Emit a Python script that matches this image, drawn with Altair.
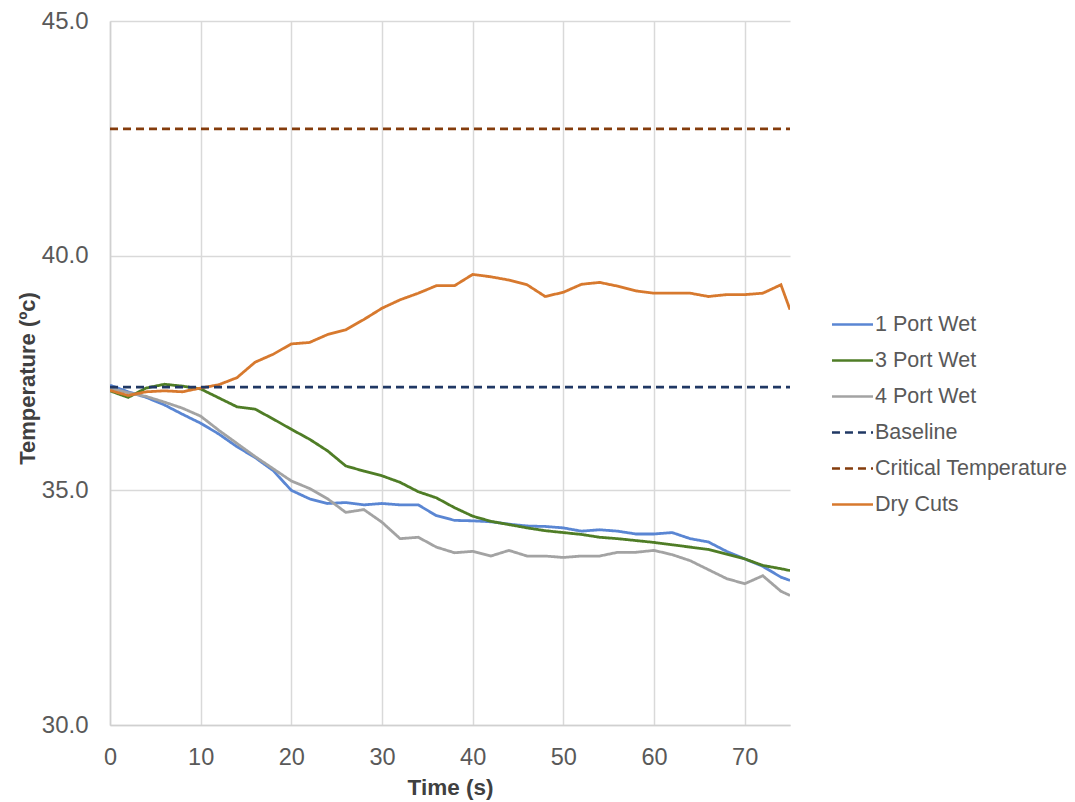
import altair as alt
import pandas as pd

times = [0, 2, 4, 6, 8, 10, 12, 14, 16, 18, 20, 22, 24, 26, 28, 30, 32, 34, 36, 38,
         40, 42, 44, 46, 48, 50, 52, 54, 56, 58, 60, 62, 64, 66, 68, 70, 72, 74, 75]

port1 = [37.24, 37.10, 36.98, 36.82, 36.62, 36.43, 36.20, 35.93, 35.70, 35.42,
         35.00, 34.82, 34.72, 34.74, 34.69, 34.72, 34.69, 34.69, 34.46, 34.36,
         34.35, 34.33, 34.28, 34.24, 34.23, 34.20, 34.13, 34.16, 34.13, 34.07,
         34.07, 34.10, 33.97, 33.90, 33.70, 33.54, 33.38, 33.15, 33.08]

port3 = [37.12, 36.98, 37.18, 37.26, 37.22, 37.16, 36.97, 36.78, 36.73, 36.52,
         36.30, 36.09, 35.84, 35.52, 35.41, 35.31, 35.17, 34.97, 34.84, 34.63,
         34.45, 34.34, 34.27, 34.20, 34.14, 34.10, 34.06, 34.00, 33.97, 33.93,
         33.89, 33.84, 33.79, 33.74, 33.64, 33.54, 33.40, 33.33, 33.29]

port4 = [37.18, 37.08, 37.00, 36.88, 36.75, 36.58, 36.28, 36.00, 35.72, 35.46,
         35.20, 35.04, 34.82, 34.53, 34.59, 34.32, 33.97, 34.00, 33.79, 33.67,
         33.70, 33.60, 33.72, 33.60, 33.60, 33.57, 33.60, 33.60, 33.68, 33.68,
         33.72, 33.63, 33.50, 33.31, 33.12, 33.01, 33.18, 32.85, 32.76]

dry = [37.13, 37.02, 37.10, 37.12, 37.10, 37.18, 37.25, 37.40, 37.73, 37.90,
       38.12, 38.15, 38.32, 38.42, 38.64, 38.88, 39.06, 39.20, 39.36, 39.36,
       39.60, 39.55, 39.48, 39.38, 39.13, 39.22, 39.39, 39.43, 39.35, 39.25,
       39.20, 39.20, 39.20, 39.13, 39.17, 39.17, 39.20, 39.38, 38.85]

baseline_value = 37.2
critical_value = 42.7
ref_times = [0, 75]

names = ["1 Port Wet", "3 Port Wet", "4 Port Wet", "Baseline",
         "Critical Temperature", "Dry Cuts"]
colors = ["#5a86d3", "#4f7d26", "#a3a3a3", "#203864", "#843c0c", "#d7792e"]
dashes = [[1, 0], [1, 0], [1, 0], [8, 5], [8, 5], [1, 0]]

rows = []
for name, vals in [("1 Port Wet", port1), ("3 Port Wet", port3),
                   ("4 Port Wet", port4), ("Dry Cuts", dry)]:
    for t, v in zip(times, vals):
        rows.append({"series": name, "time": t, "temp": v})
for name, v in [("Baseline", baseline_value), ("Critical Temperature", critical_value)]:
    for t in ref_times:
        rows.append({"series": name, "time": t, "temp": v})
df = pd.DataFrame(rows)
df["order"] = df["series"].map({n: i for i, n in enumerate(names)})

FONT = "Liberation Sans"

def make_legend():
    return alt.Legend(
        title=None,
        orient="none",
        legendX=723,
        legendY=284,
        padding=0,
        rowPadding=6,
        symbolType="M-1.14,0L1.14,0",
        symbolSize=1296,
        symbolStrokeWidth=2.5,
        labelFont=FONT,
        labelFontSize=21.5,
        labelColor="#595959",
        labelOffset=3,
        labelLimit=400,
    )

chart = alt.Chart(df).mark_line(strokeWidth=2.8, clip=True).encode(
    x=alt.X("time:Q",
            scale=alt.Scale(domain=[0, 75], nice=False, zero=False),
            axis=alt.Axis(title="Time (s)", values=[0, 10, 20, 30, 40, 50, 60, 70],
                          labelFontSize=23.5, labelColor="#595959", labelFont=FONT,
                          labelPadding=20, labelFlush=False, ticks=False,
                          domainColor="#d0d0d0",
                          domainWidth=1.5, gridColor="#d9d9d9", gridWidth=1.5,
                          titleFont=FONT, titleFontSize=22.5, titleFontWeight="bold",
                          titleColor="#404040", titlePadding=8)),
    y=alt.Y("temp:Q",
            scale=alt.Scale(domain=[30, 45], nice=False, zero=False),
            axis=alt.Axis(title="Temperature (ºc)", values=[30, 35, 40, 45], format=".1f",
                          labelFontSize=24, labelColor="#595959", labelFont=FONT,
                          labelPadding=22, ticks=False, domainColor="#d0d0d0",
                          domainWidth=1.5, gridColor="#d9d9d9", gridWidth=1.5,
                          titleFont=FONT, titleFontSize=22, titleFontWeight="bold",
                          titleColor="#404040", titleX=-83, titleY=357,
                          titleBaseline="middle")),
    color=alt.Color("series:N", scale=alt.Scale(domain=names, range=colors),
                    legend=make_legend()),
    strokeDash=alt.StrokeDash("series:N", scale=alt.Scale(domain=names, range=dashes),
                              legend=make_legend()),
    order=alt.Order("order:Q"),
    detail="series:N",
).properties(
    width=680,
    height=704,
    autosize=alt.AutoSizeParams(type="none"),
    padding={"left": 110, "top": 21, "right": 285, "bottom": 77},
    background="white",
).configure_view(stroke=None)

chart.save("out.html", embed_options={"renderer": "svg", "actions": False})
